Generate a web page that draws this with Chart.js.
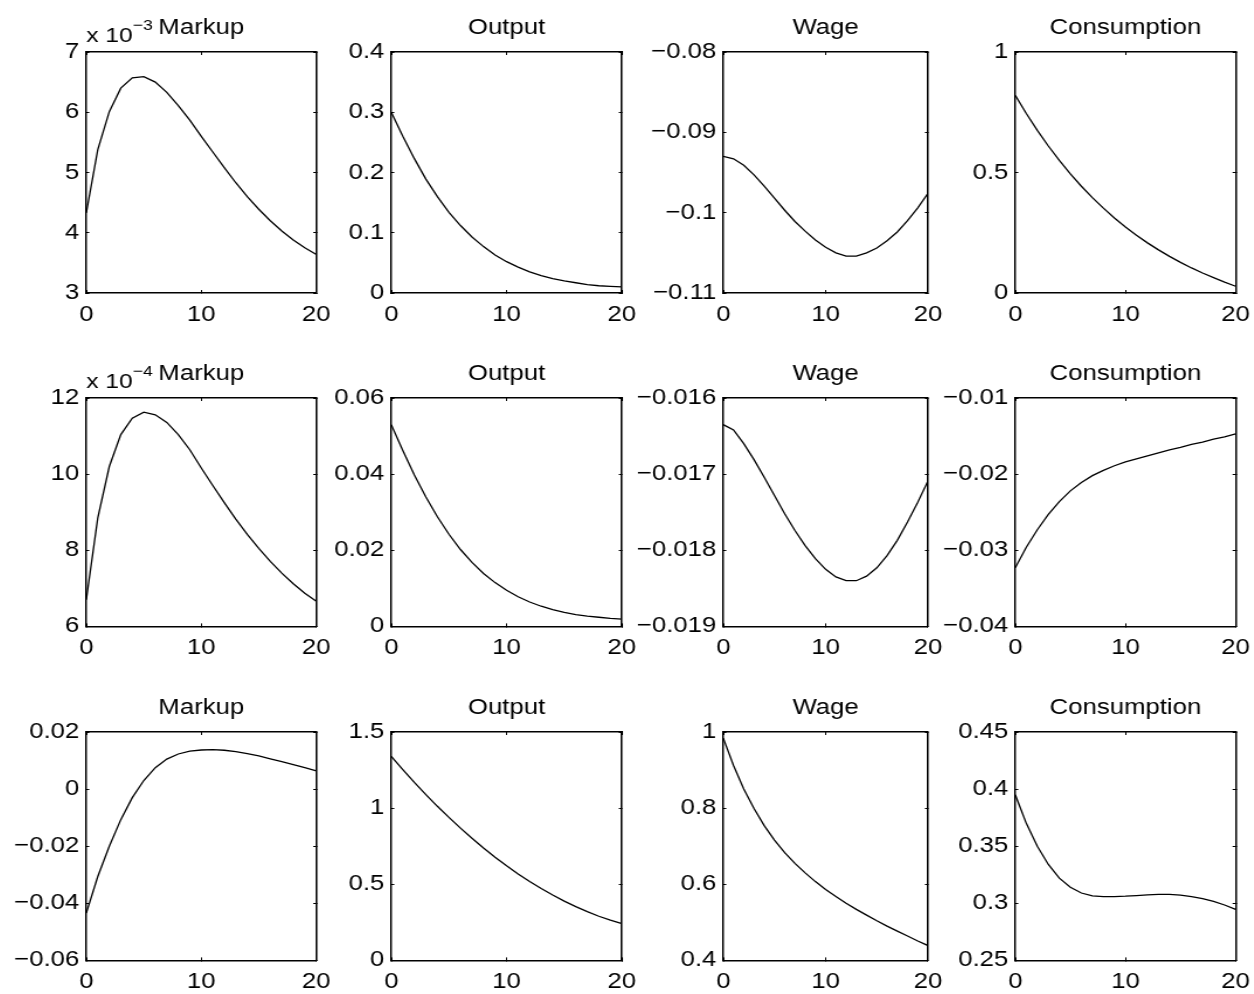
<!DOCTYPE html>
<html><head><meta charset="utf-8">
<script src="https://cdn.jsdelivr.net/npm/chart.js@4.4.1/dist/chart.umd.min.js"></script>
<style>
html,body{margin:0;padding:0;background:#fff;width:1254px;height:994px;overflow:hidden;}
body{position:relative;}
canvas{position:absolute;transform-origin:0 0;}
</style></head><body>
<script>
// ---------- data ----------
const periods = [0,1,2,3,4,5,6,7,8,9,10,11,12,13,14,15,16,17,18,19,20];
const xTickValues = [0,10,20];
const xTickLabels = ['0','10','20'];
const panelTitles = ['Markup','Output','Wage','Consumption'];

// row 1
const markup1 = [0.00433,0.00538,0.00601,0.00640,0.00657,0.00659,0.00650,0.00633,0.00611,0.00587,0.00560,0.00534,0.00508,0.00483,0.00460,0.00439,0.00420,0.00403,0.00388,0.00375,0.00364];
const output1 = [0.300,0.260,0.223,0.189,0.160,0.134,0.112,0.093,0.077,0.063,0.052,0.043,0.035,0.029,0.024,0.020,0.017,0.014,0.012,0.011,0.010];
const wage1 = [-0.0930,-0.0933,-0.0941,-0.0953,-0.0967,-0.0982,-0.0997,-0.1011,-0.1023,-0.1034,-0.1043,-0.1050,-0.1054,-0.1054,-0.1050,-0.1044,-0.1035,-0.1024,-0.1010,-0.0994,-0.0976];
const consumption1 = [0.820,0.745,0.675,0.610,0.550,0.494,0.443,0.396,0.352,0.311,0.274,0.240,0.208,0.179,0.152,0.127,0.104,0.083,0.064,0.045,0.028];
// row 2
const markup2 = [0.000670,0.000885,0.001020,0.001104,0.001147,0.001163,0.001156,0.001136,0.001104,0.001064,0.001016,0.000970,0.000925,0.000882,0.000842,0.000805,0.000771,0.000740,0.000712,0.000687,0.000666];
const output2 = [0.0530,0.0462,0.0398,0.0340,0.0288,0.0242,0.0202,0.0168,0.0139,0.0115,0.0095,0.0078,0.0064,0.0053,0.0044,0.0037,0.0031,0.0027,0.0024,0.0021,0.0019];
const wage2 = [-0.01635,-0.01642,-0.01660,-0.01681,-0.01704,-0.01728,-0.01752,-0.01774,-0.01794,-0.01811,-0.01825,-0.01835,-0.01840,-0.01840,-0.01834,-0.01823,-0.01807,-0.01787,-0.01763,-0.01737,-0.01709];
const consumption2 = [-0.0323,-0.0296,-0.0273,-0.0253,-0.0236,-0.0222,-0.0211,-0.0202,-0.0195,-0.0189,-0.0184,-0.0180,-0.0176,-0.0172,-0.0168,-0.0165,-0.0161,-0.0158,-0.0154,-0.0151,-0.0147];
// row 3
const markup3 = [-0.0434,-0.0306,-0.0200,-0.0107,-0.0030,0.0030,0.0075,0.0105,0.0123,0.0133,0.0137,0.0138,0.0136,0.0131,0.0124,0.0116,0.0106,0.0096,0.0086,0.0075,0.0064];
const output3 = [1.340,1.253,1.169,1.089,1.012,0.939,0.869,0.802,0.738,0.678,0.621,0.568,0.518,0.472,0.429,0.389,0.353,0.320,0.290,0.264,0.241];
const wage3 = [0.984,0.912,0.850,0.799,0.754,0.716,0.683,0.655,0.630,0.607,0.586,0.568,0.550,0.534,0.519,0.504,0.490,0.477,0.464,0.451,0.439];
const consumption3 = [0.395,0.370,0.350,0.334,0.322,0.314,0.309,0.3065,0.3058,0.3058,0.3062,0.3068,0.3074,0.3078,0.3078,0.3072,0.3058,0.3040,0.3016,0.2985,0.2947];

// y tick values and labels
const markupTicks1 = [0.003,0.004,0.005,0.006,0.007];
const markupLabels1 = ['3','4','5','6','7'];
const outputTicks1 = [0,0.1,0.2,0.3,0.4];
const outputLabels1 = ['0','0.1','0.2','0.3','0.4'];
const wageTicks1 = [-0.11,-0.10,-0.09,-0.08];
const wageLabels1 = ['\u22120.11','\u22120.1','\u22120.09','\u22120.08'];
const consTicks1 = [0,0.5,1];
const consLabels1 = ['0','0.5','1'];
const markupTicks2 = [0.0006,0.0008,0.0010,0.0012];
const markupLabels2 = ['6','8','10','12'];
const outputTicks2 = [0,0.02,0.04,0.06];
const outputLabels2 = ['0','0.02','0.04','0.06'];
const wageTicks2 = [-0.019,-0.018,-0.017,-0.016];
const wageLabels2 = ['\u22120.019','\u22120.018','\u22120.017','\u22120.016'];
const consTicks2 = [-0.04,-0.03,-0.02,-0.01];
const consLabels2 = ['\u22120.04','\u22120.03','\u22120.02','\u22120.01'];
const markupTicks3 = [-0.06,-0.04,-0.02,0,0.02];
const markupLabels3 = ['\u22120.06','\u22120.04','\u22120.02','0','0.02'];
const outputTicks3 = [0,0.5,1,1.5];
const outputLabels3 = ['0','0.5','1','1.5'];
const wageTicks3 = [0.4,0.6,0.8,1];
const wageLabels3 = ['0.4','0.6','0.8','1'];
const consTicks3 = [0.25,0.3,0.35,0.4,0.45];
const consLabels3 = ['0.25','0.3','0.35','0.4','0.45'];
const exponents = ['\u22123','\u22124',''];

// ---------- layout / style ----------
const SX = 1.17;
const FONT = 22;
const FAMILY = '"Liberation Sans", Arial, Helvetica, sans-serif';
const colRects = [[86,316],[391.7,622.3],[723.3,928],[1015.7,1236]];
const rowRects = [[52.3,293.3],[398.3,626.7],[732.3,960.7]];
const YW = 84, XH = 48, PT = 52, PR_MIN = 26, PB_MIN = 4;

Chart.defaults.font.family = FAMILY;
Chart.defaults.color = '#000';

const grid = [
  [[markup1,markupTicks1,markupLabels1],[output1,outputTicks1,outputLabels1],[wage1,wageTicks1,wageLabels1],[consumption1,consTicks1,consLabels1]],
  [[markup2,markupTicks2,markupLabels2],[output2,outputTicks2,outputLabels2],[wage2,wageTicks2,wageLabels2],[consumption2,consTicks2,consLabels2]],
  [[markup3,markupTicks3,markupLabels3],[output3,outputTicks3,outputLabels3],[wage3,wageTicks3,wageLabels3],[consumption3,consTicks3,consLabels3]]
];

const panelText = {
  id: 'panelText',
  afterDraw(chart, args, opts) {
    const {ctx, chartArea} = chart;
    const {left, right, top} = chartArea;
    ctx.save();
    ctx.fillStyle = '#000';
    ctx.textBaseline = 'alphabetic';
    ctx.font = FONT + 'px ' + FAMILY;
    ctx.textAlign = 'center';
    ctx.fillText(opts.title, (left + right) / 2, top - 18.5);
    if (opts.exp) {
      ctx.textAlign = 'left';
      ctx.font = '21px ' + FAMILY;
      ctx.fillText('x 10', left, top - 10.5);
      const w = ctx.measureText('x 10').width;
      ctx.font = '15px ' + FAMILY;
      ctx.fillText(opts.exp, left + w, top - 22);
    }
    ctx.restore();
  }
};

function axisBase(extra) {
  return Object.assign({
    type: 'linear',
    grid: {drawOnChartArea: false, color: '#000', lineWidth: 1},
    border: {display: true, color: '#000', width: 1.5}
  }, extra);
}

grid.forEach((row, r) => {
  row.forEach(([series, yTicks, yLabels], c) => {
    const [pl, pr] = colRects[c];
    const [pt, pb] = rowRects[r];
    const plotW = (pr - pl) / SX;
    const plotH = pb - pt;
    const W = Math.ceil(YW + plotW + PR_MIN);
    const padR = W - YW - plotW;
    const H = Math.ceil(PT + plotH + XH + PB_MIN);
    const padB = H - PT - plotH - XH;
    const cv = document.createElement('canvas');
    cv.width = W; cv.height = H;
    cv.style.left = (pl - SX * YW) + 'px';
    cv.style.top = (pt - PT) + 'px';
    cv.style.transform = 'scaleX(' + SX + ')';
    document.body.appendChild(cv);

    const yMin = yTicks[0], yMax = yTicks[yTicks.length - 1];
    new Chart(cv, {
      type: 'line',
      data: {
        datasets: [{
          data: periods.map((p, i) => ({x: p, y: series[i]})),
          xAxisID: 'x', yAxisID: 'y',
          borderColor: '#000', borderWidth: 1.3,
          pointRadius: 0, tension: 0, fill: false
        }]
      },
      options: {
        responsive: false, animation: false, events: [],
        layout: {padding: {left: 0, top: PT, right: padR, bottom: padB}},
        plugins: {
          legend: {display: false}, tooltip: {enabled: false}, title: {display: false},
          panelText: {title: panelTitles[c], exp: c === 0 ? exponents[r] : ''}
        },
        scales: {
          x: axisBase({
            position: 'bottom', min: 0, max: 20,
            afterBuildTicks: s => { s.ticks = xTickValues.map(v => ({value: v})); },
            ticks: {callback: (v, i) => xTickLabels[i], font: {size: FONT, lineHeight: 1.2}, color: '#000', padding: 11.8, maxRotation: 0, autoSkip: false},
            grid: {drawOnChartArea: false, color: '#000', lineWidth: 1, tickLength: -3},
            afterFit: s => { s.height = XH; }
          }),
          x2: axisBase({
            position: 'top', min: 0, max: 20,
            afterBuildTicks: s => { s.ticks = xTickValues.map(v => ({value: v})); },
            ticks: {display: false},
            grid: {drawOnChartArea: false, color: '#000', lineWidth: 1, tickLength: -3},
            afterFit: s => { s.height = 0; }
          }),
          y: axisBase({
            position: 'left', min: yMin, max: yMax,
            afterBuildTicks: s => { s.ticks = yTicks.map(v => ({value: v})); },
            ticks: {callback: (v, i) => yLabels[i], font: {size: FONT, lineHeight: 1.2}, color: '#000', padding: 8.6, autoSkip: false},
            grid: {drawOnChartArea: false, color: '#000', lineWidth: 1, tickLength: -2.6},
            afterFit: s => { s.width = YW; }
          }),
          y2: axisBase({
            position: 'right', min: yMin, max: yMax,
            afterBuildTicks: s => { s.ticks = yTicks.map(v => ({value: v})); },
            ticks: {display: false},
            grid: {drawOnChartArea: false, color: '#000', lineWidth: 1, tickLength: -2.6},
            afterFit: s => { s.width = 0; }
          })
        }
      },
      plugins: [panelText]
    });
  });
});
</script>
</body></html>
